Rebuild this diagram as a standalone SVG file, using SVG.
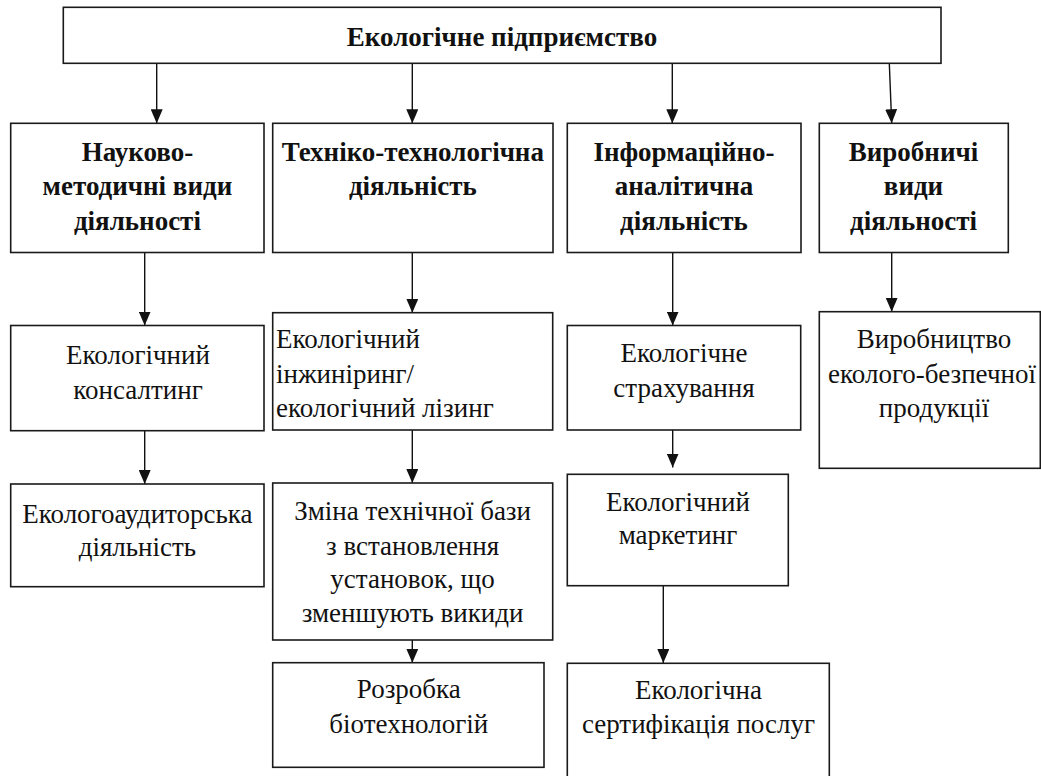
<svg xmlns="http://www.w3.org/2000/svg" width="1041" height="776" viewBox="0 0 1041 776" font-family="Liberation Serif, Times New Roman, Times, serif">
<style>
.box{fill:#fff;stroke:#1a1a1a;stroke-width:1.6}
.t{font-size:27px;fill:#111;text-anchor:middle}
.b{font-weight:bold}
.l{text-anchor:start}
.c{stroke:#111;stroke-width:1.4;fill:none;marker-end:url(#ah)}
</style>
<defs>
<marker id="ah" viewBox="0 0 14 12" markerWidth="14" markerHeight="12" refX="14" refY="6" orient="auto" markerUnits="userSpaceOnUse">
<path d="M0,0 L14,6 L0,12 z" fill="#111"/>
</marker>
</defs>
<rect width="1041" height="776" fill="#fff"/>
<g id="connectors">
<line class="c" x1="156.7" y1="63.3" x2="156.7" y2="123.3"/>
<line class="c" x1="412.3" y1="63.3" x2="412.3" y2="123.3"/>
<line class="c" x1="672.3" y1="63.3" x2="672.3" y2="123.3"/>
<line class="c" x1="889.3" y1="63.3" x2="891.7" y2="123.3"/>
<line class="c" x1="144.7" y1="252.5" x2="144.7" y2="325.5"/>
<line class="c" x1="412.3" y1="252.5" x2="412.3" y2="312.7"/>
<line class="c" x1="672.7" y1="252.5" x2="672.7" y2="325.5"/>
<line class="c" x1="891.7" y1="252.5" x2="891.7" y2="311.7"/>
<line class="c" x1="144.7" y1="430.7" x2="144.7" y2="484"/>
<line class="c" x1="412.3" y1="430" x2="412.3" y2="483"/>
<line class="c" x1="672.7" y1="430" x2="672.7" y2="467.5"/>
<line class="c" x1="412.3" y1="640" x2="412.3" y2="662.7"/>
<line class="c" x1="663.3" y1="585.7" x2="663.3" y2="663"/>
</g>
<g id="root">
<rect class="box" x="63.3" y="7.3" width="877.7" height="56"/>
<text class="t b" x="502" y="46">Екологічне підприємство</text>
</g>
<g id="n1">
<rect class="box" x="10.7" y="123.3" width="253.3" height="129.2"/>
<text class="t b" x="137.4" y="160.7">Науково-</text>
<text class="t b" x="137.4" y="195">методичні види</text>
<text class="t b" x="137.4" y="230">діяльності</text>
</g>
<g id="n2">
<rect class="box" x="272.7" y="123.3" width="280.3" height="129.2"/>
<text class="t b" x="412.8" y="160.7">Техніко-технологічна</text>
<text class="t b" x="412.8" y="195">діяльність</text>
</g>
<g id="n3">
<rect class="box" x="567.3" y="123.3" width="233.7" height="129.2"/>
<text class="t b" x="684" y="160.7">Інформаційно-</text>
<text class="t b" x="684" y="195">аналітична</text>
<text class="t b" x="684" y="230">діяльність</text>
</g>
<g id="n4">
<rect class="box" x="819.3" y="123.3" width="189" height="129.2"/>
<text class="t b" x="913.5" y="160.7">Виробничі</text>
<text class="t b" x="913.5" y="195">види</text>
<text class="t b" x="913.5" y="230">діяльності</text>
</g>
<g id="n5">
<rect class="box" x="10.7" y="325.5" width="253.3" height="105.2"/>
<text class="t" x="138" y="364">Екологічний</text>
<text class="t" x="138" y="399">консалтинг</text>
</g>
<g id="n6">
<rect class="box" x="272.7" y="312.7" width="280" height="117.3"/>
<text class="t l" x="276" y="348">Екологічний</text>
<text class="t l" x="276" y="383">інжиніринг/</text>
<text class="t l" x="276" y="417">екологічний лізинг</text>
</g>
<g id="n7">
<rect class="box" x="567.3" y="325.5" width="233.4" height="104.5"/>
<text class="t" x="684" y="361.7">Екологічне</text>
<text class="t" x="684" y="396.7">страхування</text>
</g>
<g id="n8">
<rect class="box" x="819.3" y="311.7" width="221" height="156.6"/>
<text class="t" x="934" y="348.3">Виробництво</text>
<text class="t" x="932" y="383.3">еколого-безпечної</text>
<text class="t" x="934" y="416.7">продукції</text>
</g>
<g id="n9">
<rect class="box" x="10.7" y="484" width="253.3" height="102.7"/>
<text class="t" x="137.4" y="522.7">Екологоаудиторська</text>
<text class="t" x="137.4" y="556">діяльність</text>
</g>
<g id="n10">
<rect class="box" x="272.7" y="483" width="280" height="157"/>
<text class="t" x="412.6" y="520">Зміна технічної бази</text>
<text class="t" x="412.6" y="554.5">з встановлення</text>
<text class="t" x="412.6" y="588">установок, що</text>
<text class="t" x="412.6" y="622">зменшують викиди</text>
</g>
<g id="n11">
<rect class="box" x="567.3" y="474.3" width="221" height="111.4"/>
<text class="t" x="678" y="510.7">Екологічний</text>
<text class="t" x="678" y="544">маркетинг</text>
</g>
<g id="n12">
<rect class="box" x="272.7" y="662.7" width="271.3" height="104.6"/>
<text class="t" x="408.8" y="698">Розробка</text>
<text class="t" x="408.8" y="733">біотехнологій</text>
</g>
<g id="n13">
<rect class="box" x="567.3" y="663.3" width="262" height="130"/>
<text class="t" x="698.5" y="699.3">Екологічна</text>
<text class="t" x="698.5" y="733.3">сертифікація послуг</text>
</g>
</svg>
